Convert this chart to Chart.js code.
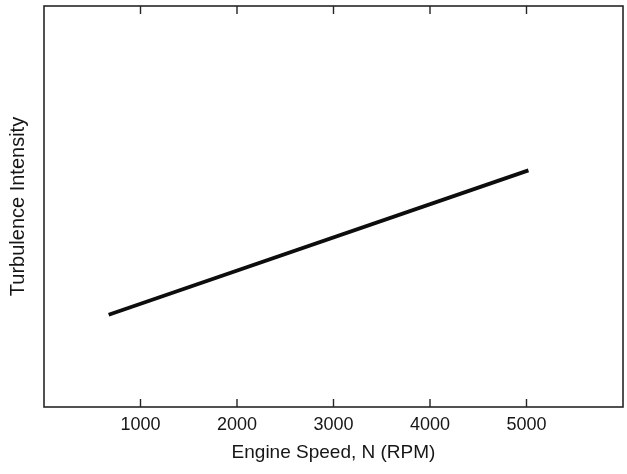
<!DOCTYPE html>
<html>
<head>
<meta charset="utf-8">
<script src="https://cdn.jsdelivr.net/npm/chart.js@4/dist/chart.umd.min.js"></script>
<style>
html,body{margin:0;padding:0;background:#fff;}
#wrap{width:627px;height:474px;}
</style>
</head>
<body>
<div id="wrap"><canvas id="c" width="627" height="474"></canvas></div>
<script>
// Data
const engineSpeed = [670, 5020];          // RPM
const turbulence = [23, 59];              // arbitrary units (no y scale shown)
const xTickValues = [1000, 2000, 3000, 4000, 5000];
const xTickLabels = ["1000", "2000", "3000", "4000", "5000"];
const xTitle = "Engine Speed, N (RPM)";
const yTitle = "Turbulence Intensity";

const ink = '#161616';
const fam = "'Liberation Sans', Arial, sans-serif";

const framePlugin = {
  id: 'frame',
  afterDatasetsDraw(chart) {
    const {ctx, chartArea: a, scales} = chart;
    ctx.save();
    ctx.strokeStyle = '#262626';
    ctx.lineWidth = 1.6;
    ctx.strokeRect(a.left, a.top, a.right - a.left, a.bottom - a.top);
    ctx.lineWidth = 1.4;
    const tl = 8;
    xTickValues.forEach(v => {
      const px = scales.x.getPixelForValue(v);
      ctx.beginPath();
      ctx.moveTo(px, a.bottom); ctx.lineTo(px, a.bottom - tl);
      ctx.moveTo(px, a.top); ctx.lineTo(px, a.top + tl);
      ctx.stroke();
    });
    ctx.restore();
  }
};

new Chart(document.getElementById('c'), {
  type: 'line',
  data: {
    datasets: [{
      data: engineSpeed.map((x, i) => ({x, y: turbulence[i]})),
      borderColor: '#0d0d0d',
      borderWidth: 3.8,
      pointRadius: 0,
      tension: 0,
      fill: false
    }]
  },
  options: {
    responsive: false,
    animation: false,
    layout: {padding: {top: 6, right: 4, left: 0, bottom: 0}},
    plugins: {legend: {display: false}, tooltip: {enabled: false}},
    scales: {
      x: {
        type: 'linear',
        min: 0, max: 6000,
        afterBuildTicks(scale) { scale.ticks = xTickValues.map(v => ({value: v})); },
        afterFit(scale) { scale.height = 67; },
        grid: {display: false, drawTicks: false},
        border: {display: false},
        ticks: {
          padding: 7,
          color: ink,
          font: {family: fam, size: 18},
          callback(v) { const i = xTickValues.indexOf(v); return i >= 0 ? xTickLabels[i] : ''; },
          maxRotation: 0, autoSkip: false
        },
        title: {
          display: true, text: xTitle, color: ink,
          font: {family: fam, size: 19},
          padding: {top: 4, bottom: 10}
        }
      },
      y: {
        min: 0, max: 100,
        afterFit(scale) { scale.width = 44; },
        grid: {display: false, drawTicks: false},
        border: {display: false},
        ticks: {display: false},
        title: {
          display: true, text: yTitle, color: ink,
          font: {family: fam, size: 20},
          padding: {top: 6, bottom: 4}
        }
      }
    }
  },
  plugins: [framePlugin]
});
</script>
</body>
</html>
